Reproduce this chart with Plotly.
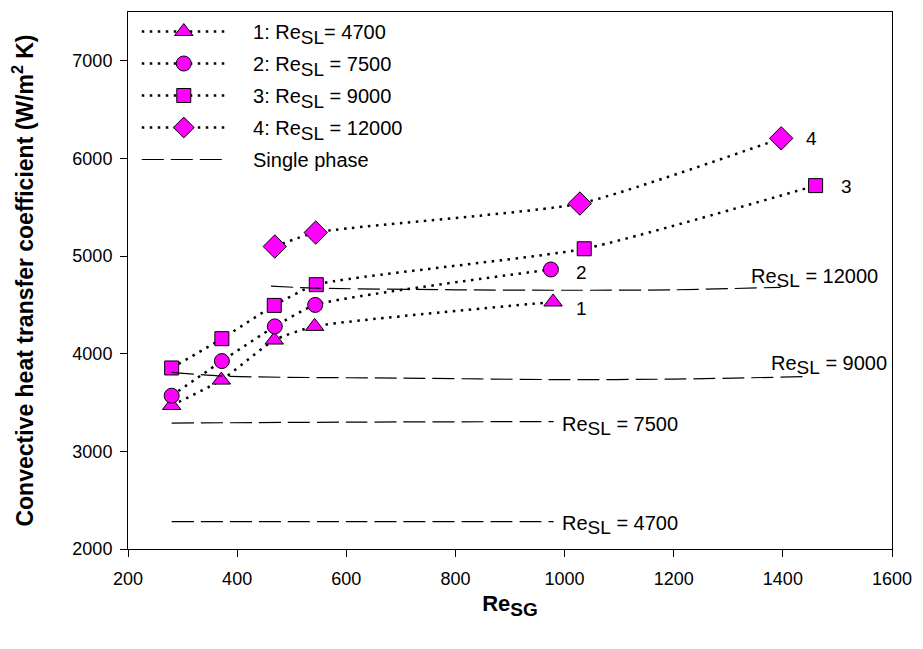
import plotly.graph_objects as go

# Two-phase convective heat transfer coefficient vs superficial gas Reynolds number
re_sg_1 = [280, 371, 468, 542, 979]
h_1 = [3470, 3730, 4140, 4280, 4530]

re_sg_2 = [280, 372, 469, 543, 975]
h_2 = [3570, 3925, 4280, 4500, 4863]

re_sg_3 = [280, 372, 468, 545, 1036, 1460]
h_3 = [3854, 4154, 4495, 4707, 5075, 5722]

re_sg_4 = [469, 544, 1028, 1397]
h_4 = [5098, 5241, 5538, 6206]


def re_sub(sub, size):
    # subscript drawn close to full size, as in the axis/legend labels
    return f"Re<sub><span style='font-size:{size}px'>{sub}</span></sub>"


NB = "&nbsp;" * 4
series_names = [NB + "1: " + re_sub("SL", 19) + "= 4700",
                NB + "2: " + re_sub("SL", 19) + " = 7500",
                NB + "3: " + re_sub("SL", 19) + " = 9000",
                NB + "4: " + re_sub("SL", 19) + " = 12000"]
single_phase_name = NB + "Single phase"
series_tags = ["1", "2", "3", "4"]

# Single-phase reference curves
sp_x_4700 = [280, 630, 980]
sp_h_4700 = [2280, 2280, 2280]
sp_x_7500 = [280, 630, 980]
sp_h_7500 = [3290, 3300, 3305]
sp_x_9000 = [280, 380, 700, 1000, 1200, 1438]
sp_h_9000 = [3810, 3770, 3750, 3735, 3740, 3765]
sp_x_12000 = [462, 545, 800, 1000, 1200, 1396]
sp_h_12000 = [4692, 4672, 4655, 4650, 4655, 4680]
sp_labels = [re_sub("SL", 19) + " = 4700", re_sub("SL", 19) + " = 7500",
             re_sub("SL", 19) + " = 9000", re_sub("SL", 19) + " = 12000"]

FONT = "Liberation Sans, Arial, sans-serif"
MAGENTA = "#FF00FF"

fig = go.Figure()

series = [(re_sg_1, h_1, "triangle-up", 16), (re_sg_2, h_2, "circle", 15),
          (re_sg_3, h_3, "square", 14), (re_sg_4, h_4, "diamond", 18)]
for i, (xs, ys, sym, sz) in enumerate(series):
    fig.add_trace(go.Scatter(
        x=xs, y=ys, mode="lines+markers", name=series_names[i],
        legendgroup=f"s{i}",
        line=dict(color="black", width=2.5, dash="2.5px,5.5px", shape="spline", smoothing=0.5),
        marker=dict(symbol=sym, size=sz, color=MAGENTA, line=dict(color="black", width=1)),
    ))

sp = [(sp_x_4700, sp_h_4700), (sp_x_7500, sp_h_7500),
      (sp_x_9000, sp_h_9000), (sp_x_12000, sp_h_12000)]
for i, (xs, ys) in enumerate(sp):
    fig.add_trace(go.Scatter(
        x=xs, y=ys, mode="lines", name=single_phase_name, legendgroup="sp",
        showlegend=(i == 0),
        line=dict(color="black", width=1.2, dash="22px,7px", shape="spline", smoothing=0.8),
    ))

# Curve labels
annotations = []
tag_pos = [(1017, 4464), (1017, 4832), (1502, 5712), (1438, 6202)]
for tag, (x, y) in zip(series_tags, tag_pos):
    annotations.append(dict(x=x, y=y, text=tag, showarrow=False, xanchor="left",
                            yanchor="middle", font=dict(size=19, color="black", family=FONT)))
sp_label_pos = [(992, 2250), (992, 3262), (1374, 3880), (1338, 4775)]
for lab, (x, y) in zip(sp_labels, sp_label_pos):
    annotations.append(dict(x=x, y=y, text=lab, showarrow=False, xanchor="left",
                            yanchor="middle", font=dict(size=20, color="black", family=FONT)))

fig.update_layout(
    width=923, height=649,
    margin=dict(l=128, r=26, t=11, b=100),
    paper_bgcolor="white", plot_bgcolor="white",
    font=dict(family=FONT, size=18, color="black"),
    showlegend=True,
    legend=dict(x=0.0115, y=1.0, xanchor="left", yanchor="top",
                bgcolor="rgba(0,0,0,0)", font=dict(size=20, family=FONT),
                itemwidth=84, tracegroupgap=3, traceorder="grouped"),
    annotations=annotations,
    xaxis=dict(range=[200, 1600], tickvals=[200, 400, 600, 800, 1000, 1200, 1400, 1600],
               showgrid=False, zeroline=False, showline=True, linecolor="black", linewidth=1,
               mirror=True, ticks="outside", ticklen=7, tickcolor="black",
               ticklabelstandoff=6,
               tickfont=dict(size=18, family=FONT),
               title=dict(text="<b>Re<sub><span style='font-size:19px'>SG</span></sub></b>",
                          font=dict(size=22, family=FONT), standoff=8)),
    yaxis=dict(range=[2000, 7500], tickvals=[2000, 3000, 4000, 5000, 6000, 7000],
               showgrid=False, zeroline=False, showline=True, linecolor="black", linewidth=1,
               mirror=True, ticks="outside", ticklen=7, tickcolor="black",
               ticklabelstandoff=4,
               tickfont=dict(size=18, family=FONT),
               title=dict(text="<b>Convective heat transfer coefficient (W/m<sup>2</sup> K)</b>",
                          font=dict(size=23, family=FONT), standoff=32)),
)

fig.write_html("out.html")
